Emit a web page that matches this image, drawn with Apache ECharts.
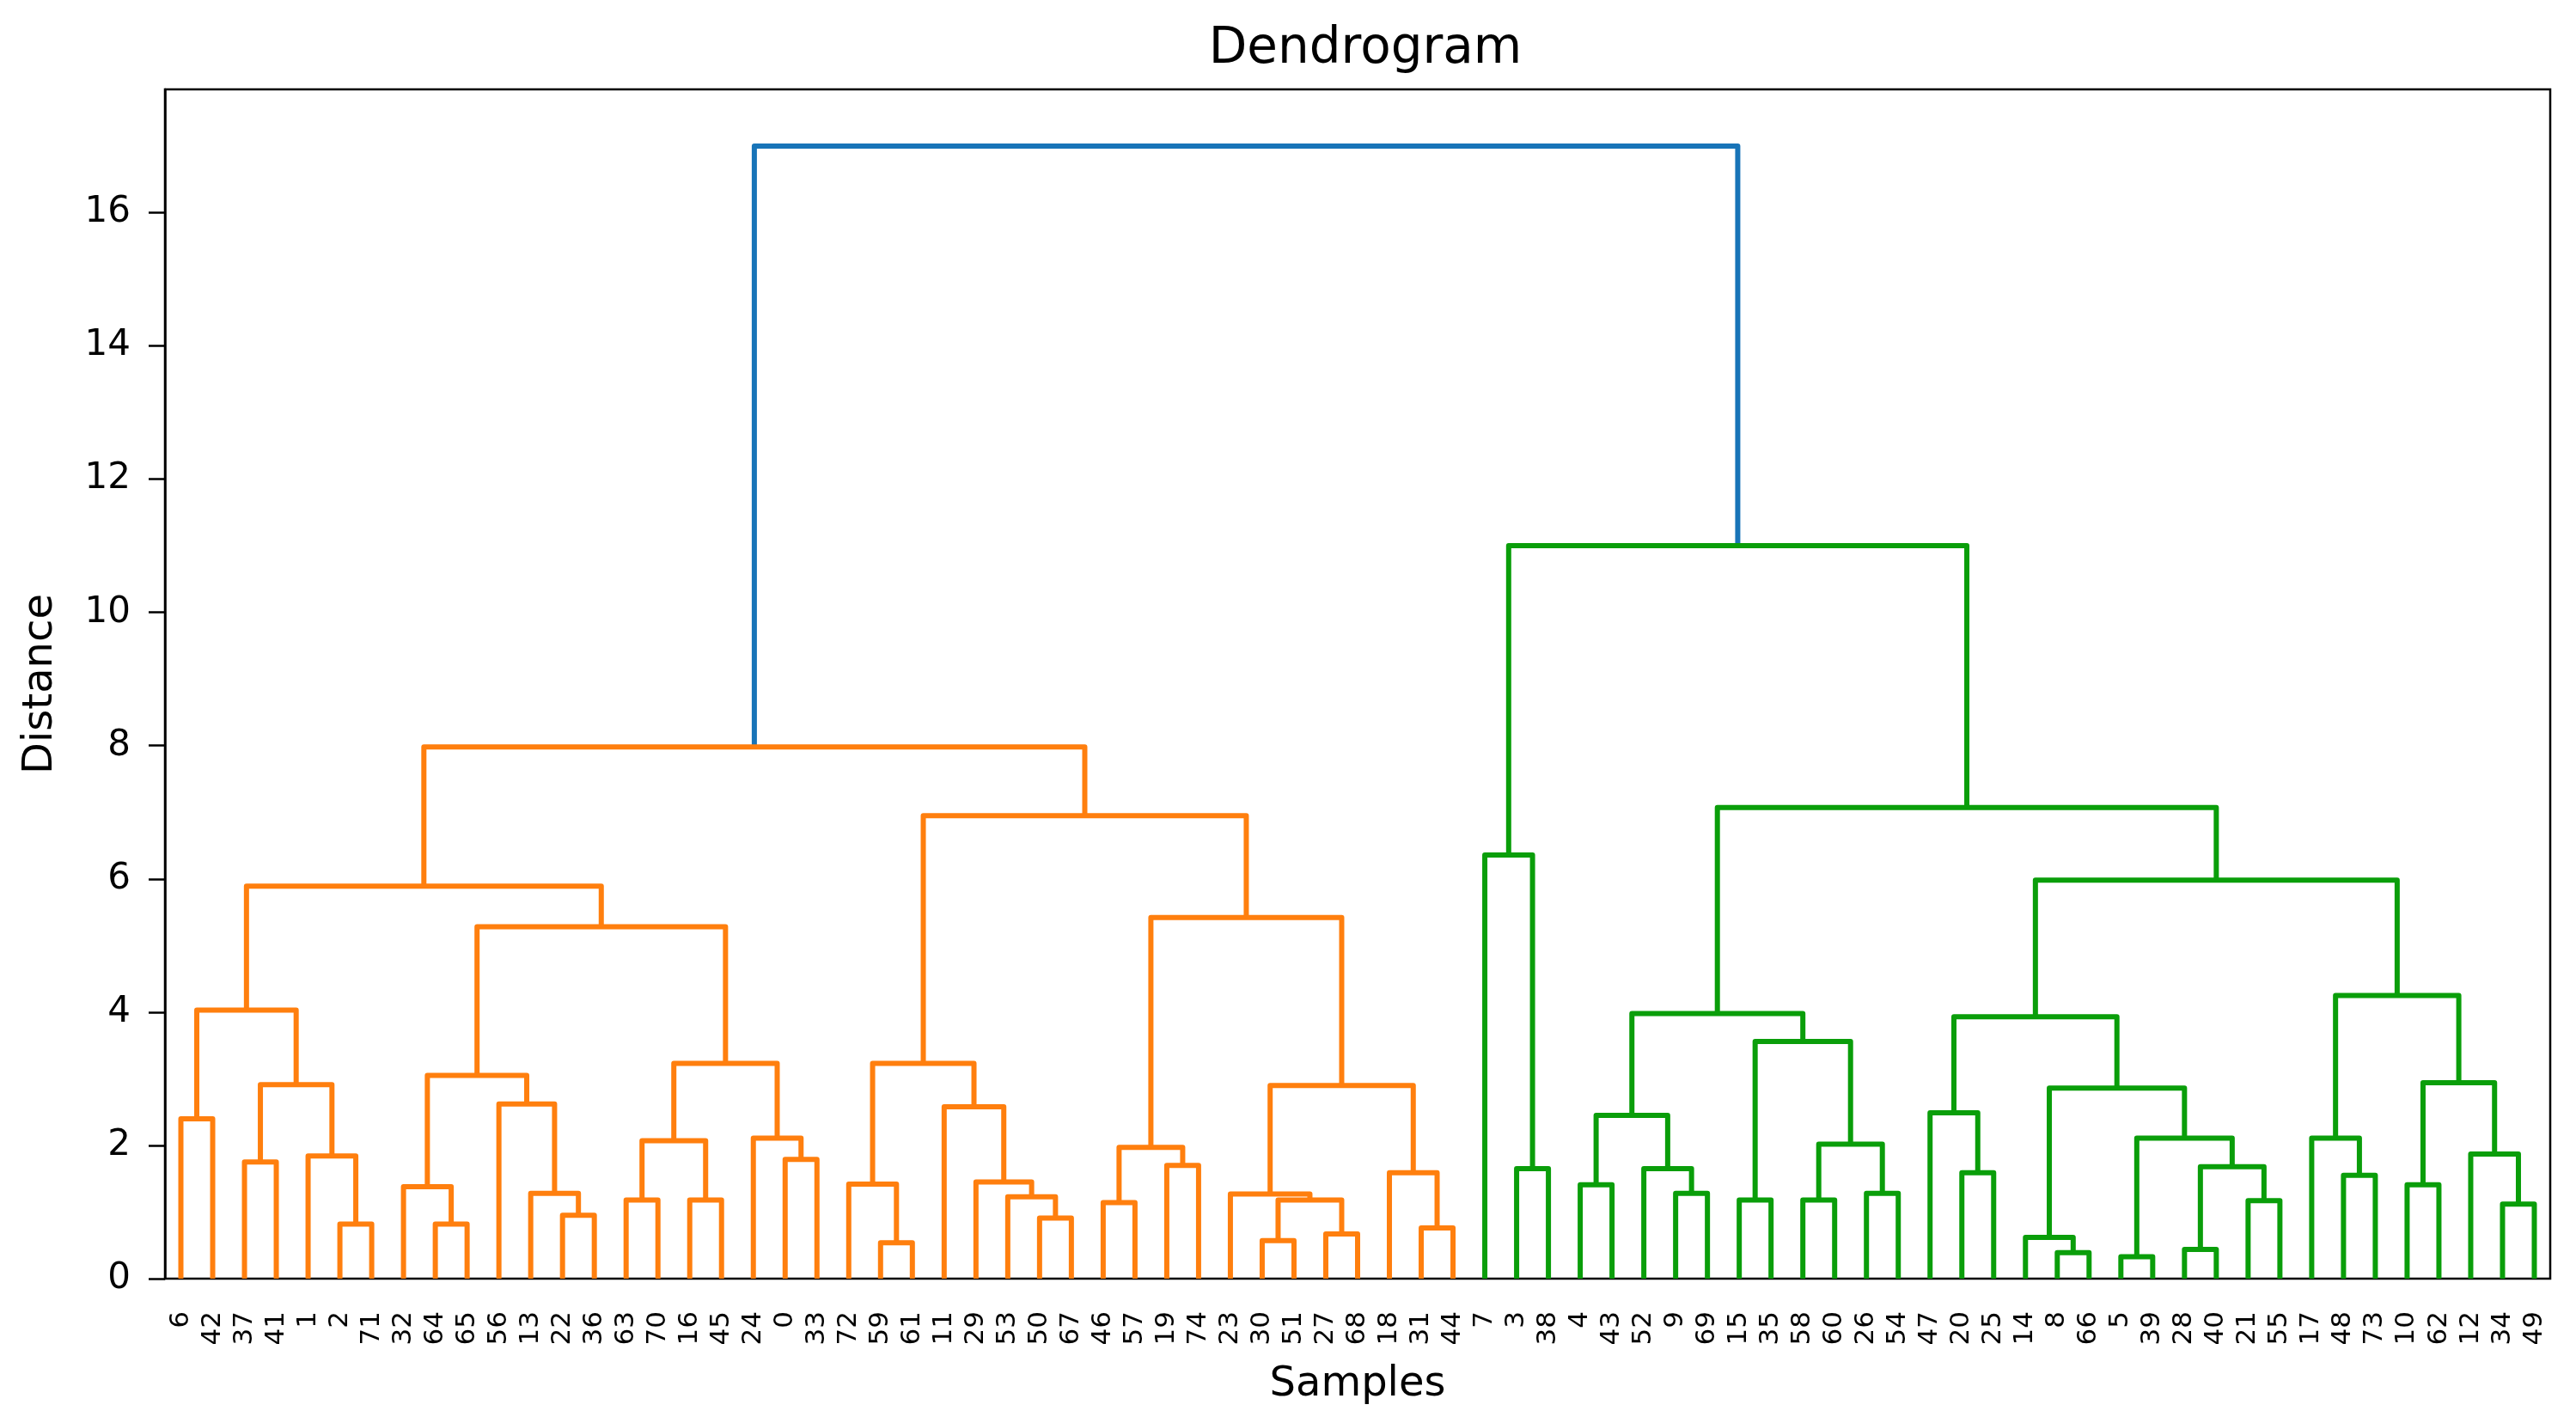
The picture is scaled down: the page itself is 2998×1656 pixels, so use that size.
<!DOCTYPE html>
<html>
<head>
<meta charset="utf-8">
<script src="https://cdn.jsdelivr.net/npm/echarts@6/dist/echarts.min.js"></script>
<style>
  html, body { margin: 0; padding: 0; background: #fff; }
  #c { width: 2998px; height: 1656px; }
</style>
</head>
<body>
<div id="c"></div>
<script>
// ---- DATA ----
// Leaf order along the x axis (tick labels)
const leafLabels = [6, 42, 37, 41, 1, 2, 71, 32, 64, 65, 56, 13, 22, 36, 63, 70, 16, 45, 24, 0,
  33, 72, 59, 61, 11, 29, 53, 50, 67, 46, 57, 19, 74, 23, 30, 51, 27, 68, 18, 31,
  44, 7, 3, 38, 4, 43, 52, 9, 69, 15, 35, 58, 60, 26, 54, 47, 20, 25, 14, 8,
  66, 5, 39, 28, 40, 21, 55, 17, 48, 73, 10, 62, 12, 34, 49];

// Linkage (scipy style): [left child, right child, distance]; ids >= 75 refer to earlier merges (75 + row)
const linkage = [
  [2, 71, 0.82], [1, 75, 1.84], [37, 41, 1.75], [77, 76, 2.91], [6, 42, 2.40],
  [79, 78, 4.03], [64, 65, 0.82], [32, 81, 1.38], [22, 36, 0.95], [13, 83, 1.28],
  [56, 84, 2.62], [82, 85, 3.05], [63, 70, 1.18], [16, 45, 1.18], [87, 88, 2.07],
  [0, 33, 1.79], [24, 90, 2.11], [89, 91, 3.23], [86, 92, 5.28], [80, 93, 5.89],
  [59, 61, 0.54], [72, 95, 1.42], [50, 67, 0.91], [53, 97, 1.23], [29, 98, 1.45],
  [11, 99, 2.58], [96, 100, 3.23], [46, 57, 1.14], [19, 74, 1.70], [102, 103, 1.97],
  [30, 51, 0.57], [27, 68, 0.67], [105, 106, 1.18], [23, 107, 1.27], [31, 44, 0.76],
  [18, 109, 1.59], [108, 110, 2.90], [104, 111, 5.42], [101, 112, 6.95], [94, 113, 7.98],
  [3, 38, 1.65], [7, 115, 6.36], [4, 43, 1.41], [9, 69, 1.28], [52, 118, 1.65],
  [117, 119, 2.45], [15, 35, 1.18], [58, 60, 1.18], [26, 54, 1.28], [122, 123, 2.02],
  [121, 124, 3.56], [120, 125, 3.98], [20, 25, 1.59], [47, 127, 2.49], [8, 66, 0.39],
  [14, 129, 0.62], [5, 39, 0.33], [28, 40, 0.44], [21, 55, 1.17], [132, 133, 1.68],
  [131, 134, 2.11], [130, 135, 2.86], [128, 136, 3.93], [48, 73, 1.55], [17, 138, 2.11],
  [10, 62, 1.41], [34, 49, 1.12], [12, 141, 1.87], [140, 142, 2.94], [139, 143, 4.25],
  [137, 144, 5.98], [126, 145, 7.07], [116, 146, 11.0], [114, 147, 17.0]
];

const clusterColors = ['#ff7f0e', '#0a9e0a'];
const aboveColor = '#1874b8';
const yTickValues = [0, 2, 4, 6, 8, 10, 12, 14, 16];

// ---- BUILD TREE GEOMETRY (in data units) ----
const N = leafLabels.length;
const node = {};
leafLabels.forEach((lab, i) => { node[lab] = { x: 10 * i + 5, h: 0, kids: null }; });
linkage.forEach((m, k) => {
  const a = node[m[0]], b = node[m[1]];
  node[N + k] = { x: (a.x + b.x) / 2, h: m[2], kids: [m[0], m[1]] };
});
const rootId = N + linkage.length - 1;
const maxH = Math.max(...linkage.map(m => m[2]));
const threshold = 0.7 * maxH;
const allColors = clusterColors.concat([aboveColor]);
const aboveIdx = allColors.length - 1;

let nextColor = 0;
const segs = [];
function assign(id, cIdx) {
  const n = node[id];
  if (!n.kids) return;
  let myIdx = cIdx;
  if (n.h >= threshold) myIdx = aboveIdx;
  const a = node[n.kids[0]], b = node[n.kids[1]];
  segs.push([a.x, a.h, b.x, b.h, n.h, myIdx]);
  n.kids.forEach(k => {
    const kn = node[k];
    if (!kn.kids) return;
    let ci = myIdx;
    if (myIdx === aboveIdx && kn.h < threshold) {
      ci = nextColor % clusterColors.length; nextColor++;
    }
    assign(k, ci);
  });
}
assign(rootId, aboveIdx);

// ---- CHART ----
const chart = echarts.init(document.getElementById('c'));
const FONT = 'DejaVu Sans';
chart.setOption({
  animation: false,
  backgroundColor: '#fff',
  title: {
    text: 'Dendrogram',
    left: 1584, top: 24, textAlign: 'center',
    textStyle: { fontFamily: FONT, fontSize: 58, fontWeight: 'normal', color: '#000' }
  },
  grid: {
    left: 192, right: 30, top: 104, bottom: 168,
    show: true, borderColor: '#000', borderWidth: 2.5, backgroundColor: 'transparent'
  },
  xAxis: [
    {
      type: 'category', data: leafLabels.map(String), position: 'bottom',
      axisLine: { show: false }, axisTick: { show: false }, splitLine: { show: false },
      axisLabel: { rotate: 90, interval: 0, fontSize: 31, fontFamily: FONT, color: '#000', margin: 38 },
      name: 'Samples', nameLocation: 'middle', nameGap: 100,
      nameTextStyle: { fontFamily: FONT, fontSize: 48, color: '#000' }
    },
    { type: 'value', min: 0, max: 750, show: false }
  ],
  yAxis: {
    type: 'value', min: 0, max: maxH * 1.05, interval: 2,
    axisLine: { show: true, lineStyle: { color: '#000', width: 2.5 } },
    axisTick: { show: true, length: 19, customValues: yTickValues, lineStyle: { color: '#000', width: 2.5 } },
    axisLabel: { customValues: yTickValues, fontSize: 42, fontFamily: FONT, color: '#000', margin: 40 },
    splitLine: { show: false },
    name: 'Distance', nameLocation: 'middle', nameGap: 120, nameRotate: 90,
    nameTextStyle: { fontFamily: FONT, fontSize: 48, color: '#000' }
  },
  series: [{
    type: 'custom',
    xAxisIndex: 1, yAxisIndex: 0,
    clip: true,
    data: segs,
    renderItem: function (params, api) {
      const p1 = api.coord([api.value(0), api.value(1)]);
      const p2 = api.coord([api.value(0), api.value(4)]);
      const p3 = api.coord([api.value(2), api.value(4)]);
      const p4 = api.coord([api.value(2), api.value(3)]);
      return {
        type: 'polyline',
        shape: { points: [p1, p2, p3, p4] },
        style: { stroke: allColors[api.value(5)], lineWidth: 6, fill: null, lineJoin: 'round' }
      };
    }
  }]
});
</script>
</body>
</html>
